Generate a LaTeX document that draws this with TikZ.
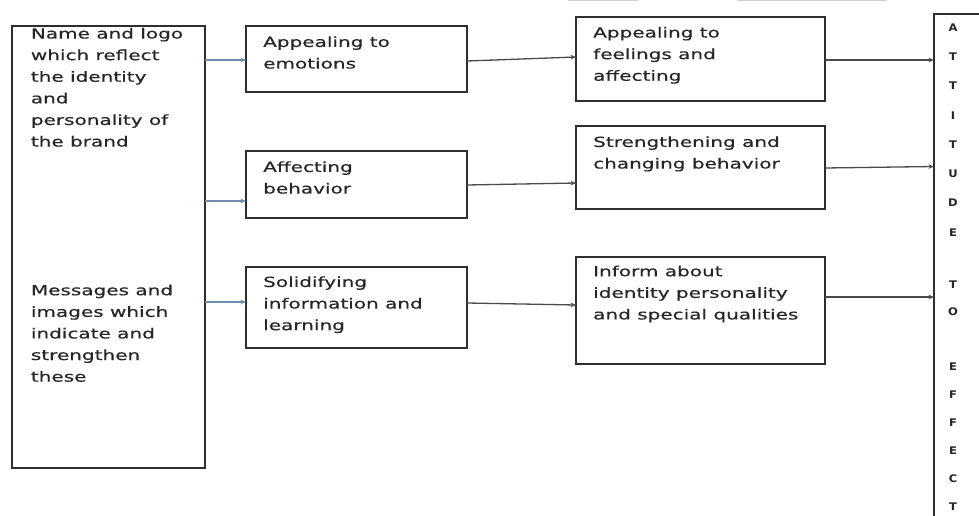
\documentclass[tikz,border=0pt]{standalone}
\usepackage{fontspec}
\setmainfont{DejaVu Sans}[FakeStretch=1.43,FakeBold=0.35]
\newfontfamily\letterfont{DejaVu Sans}[FakeStretch=1.1]
\usetikzlibrary{arrows.meta,calc}

\definecolor{boxline}{HTML}{2E2E2E}
\definecolor{txtgray}{HTML}{262626}
\definecolor{bluearrow}{HTML}{6F8CAA}
\definecolor{grayarrow}{HTML}{4A4A4A}
\definecolor{faint}{HTML}{CFCFCF}

\tikzset{
  x=1pt, y=-1pt,
  box/.style={draw=boxline, line width=1.3pt, inner sep=0pt, outer sep=0pt},
  txt/.style={anchor=north west, align=left, inner sep=0pt, text=txtgray,
              font=\fontsize{14}{21.6}\selectfont},
  letter/.style={inner sep=0pt, text=txtgray,
                 font=\letterfont\bfseries\fontsize{10.5}{11}\selectfont},
  inarrow/.style={draw=bluearrow, line width=1.1pt,
                  -{Stealth[length=5.5pt,width=4.5pt]}},
  outarrow/.style={draw=grayarrow, line width=1.3pt,
                   -{Stealth[length=5.5pt,width=4.5pt]}},
}

\begin{document}
\begin{tikzpicture}
  \clip (0,0) rectangle (979,516);
  \fill[white] (0,0) rectangle (979,516);

  % faint strokes along the top edge
  \draw[faint, line width=1.2pt] (568,0.6) -- (638,0.6);
  \draw[faint, line width=1.2pt] (737,0.6) -- (887,0.6);

  % source column
  \node[box, minimum width=193, minimum height=442] (src) at (108.5,247) {};
  \node[txt] (srcA) at (30.7,27.7) {Name and logo\\which reflect\\the identity\\and\\personality of\\the brand};
  \node[txt] (srcB) at (30.7,284.4) {Messages and\\images which\\indicate and\\strengthen\\these};

  % first stage
  \node[box, minimum width=221, minimum height=66] (emo) at (356.5,59) {};
  \node[box, minimum width=221, minimum height=67] (beh) at (356.5,184.5) {};
  \node[box, minimum width=221, minimum height=81] (sol) at (356.5,307.5) {};
  \node[txt] (emoT) at (263,36.1) {Appealing to\\emotions};
  \node[txt] (behT) at (263,161.1) {Affecting\\behavior};
  \node[txt] (solT) at (263,276.1) {Solidifying\\information and\\learning};

  % second stage
  \node[box, minimum width=249, minimum height=84] (feel) at (700.5,59) {};
  \node[box, minimum width=249, minimum height=83] (str) at (700.5,167.5) {};
  \node[box, minimum width=249, minimum height=107] (inf) at (700.5,310.5) {};
  \node[txt] (feelT) at (593,26.7) {Appealing to\\feelings and\\affecting};
  \node[txt] (strT) at (593,136.1) {Strengthening and\\changing behavior};
  \node[txt] (infT) at (593,265.4) {Inform about\\identity personality\\and special qualities};

  % outcome column
  \node[box, minimum width=70, minimum height=540] (att) at (969,284) {};
  \foreach \ch/\yy [count=\i] in {A/28,T/57,T/86,I/116,T/145,U/174,D/203,E/233,
                                  T/285,O/312,E/367,F/395,F/423,E/451,C/479,T/507}
    \node[letter] (ltr\i) at (953,\yy) {\ch};

  % connector end points on the boxes
  \coordinate (e1) at ($(emo.west)+(0,1)$);
  \coordinate (e2) at ($(beh.west)+(0,16.5)$);
  \coordinate (e3) at ($(sol.west)+(0,-5.5)$);
  \coordinate (f1) at ($(emo.east)+(0,2)$);
  \coordinate (f2) at ($(beh.east)+(0,0.5)$);
  \coordinate (f3) at ($(sol.east)+(0,-4.5)$);
  \coordinate (g1) at ($(feel.west)+(0,-2)$);
  \coordinate (g2) at ($(str.west)+(0,15.5)$);
  \coordinate (g3) at ($(inf.west)+(0,-5.5)$);
  \coordinate (h1) at ($(feel.east)+(0,1)$);
  \coordinate (h2) at ($(str.east)+(0,0.5)$);
  \coordinate (h3) at ($(inf.east)+(0,-13.5)$);

  % connectors
  \draw[inarrow] (src.east |- e1) -- (e1);
  \draw[inarrow] (src.east |- e2) -- (e2);
  \draw[inarrow] (src.east |- e3) -- (e3);

  \draw[outarrow] (f1) -- (g1);
  \draw[outarrow] (f2) -- (g2);
  \draw[outarrow] (f3) -- (g3);

  \draw[outarrow] (h1) -- (att.west |- h1);
  \draw[outarrow] (h2) -- ($(att.west |- h2)+(0,-1.5)$);
  \draw[outarrow] (h3) -- (att.west |- h3);
\end{tikzpicture}
\end{document}
